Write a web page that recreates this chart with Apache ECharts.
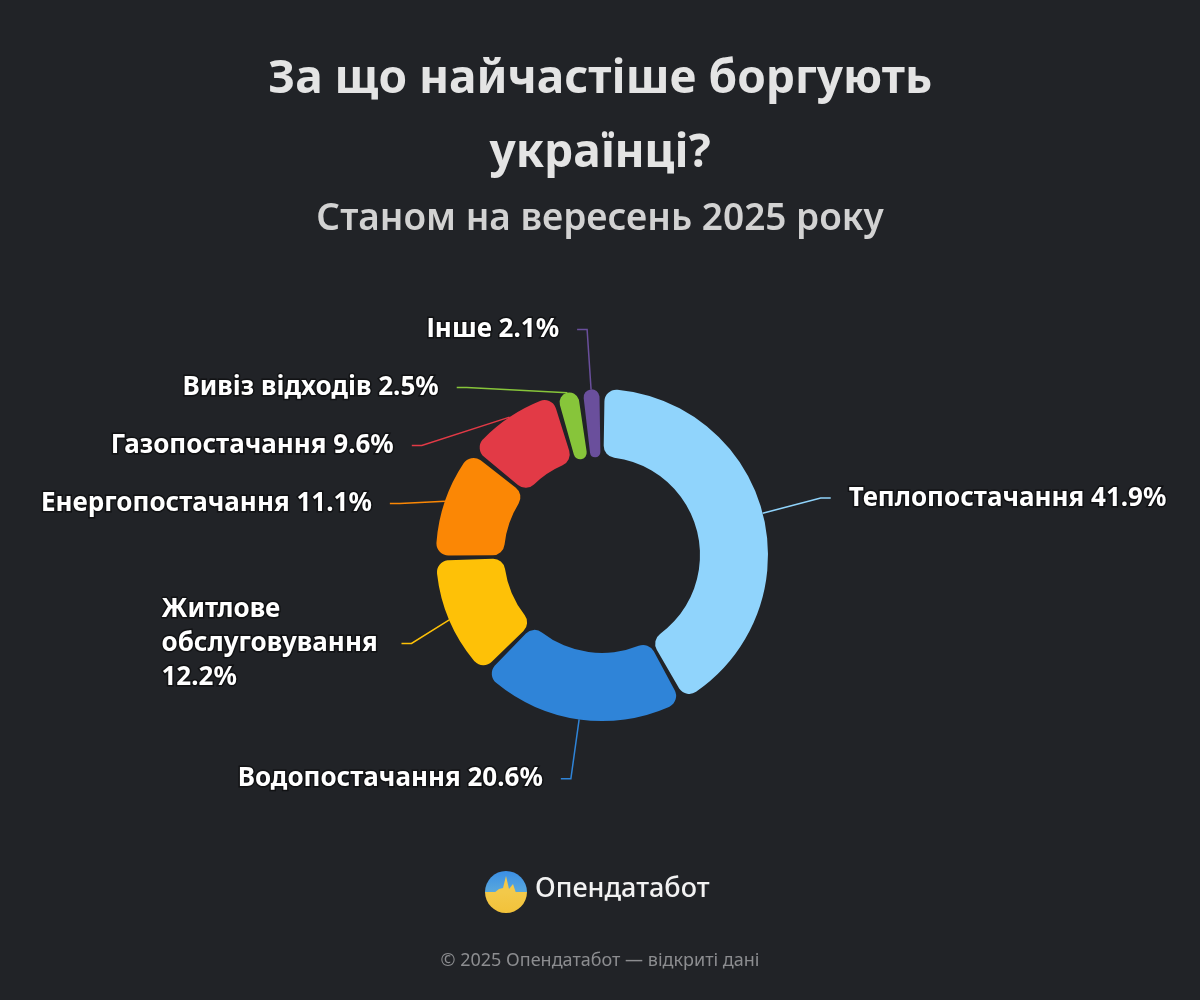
<!DOCTYPE html>
<html>
<head>
<meta charset="utf-8">
<title>За що найчастіше боргують українці?</title>
<script src="https://cdn.jsdelivr.net/npm/echarts@6/dist/echarts.min.js"></script>
<style>
    html, body { margin: 0; padding: 0; background: #212327; }
    #chart { width: 1200px; height: 1000px; }
</style>
</head>
<body>
<div id="chart"></div>
<script>
const categories = ['Теплопостачання', 'Водопостачання', 'Житлове обслуговування', 'Енергопостачання', 'Газопостачання', 'Вивіз відходів', 'Інше'];
const shares = [41.9, 20.6, 12.2, 11.1, 9.6, 2.5, 2.1];
const colors = ['#90d4fc', '#2f84d8', '#fec107', '#fb8705', '#e23a46', '#87c53a', '#6a4f9c'];

const titleText = 'За що найчастіше боргують\nукраїнці?';
const subtitleText = 'Станом на вересень 2025 року';
const brandText = 'Опендатабот';
const footerText = '© 2025 Опендатабот — відкриті дані';

const font = '"Noto Sans", "Open Sans", sans-serif';

const chart = echarts.init(document.getElementById('chart'));

const pieData = categories.map((name, i) => ({
    name: name,
    value: shares[i],
    itemStyle: { color: colors[i] },
    labelLine: { lineStyle: { color: colors[i] } }
}));

const option = {
    backgroundColor: '#212327',
    title: [
        {
            text: titleText,
            left: 'center',
            top: 38,
            textStyle: {
                color: '#e4e4e4',
                fontFamily: font,
                fontWeight: 'bold',
                fontSize: 46,
                lineHeight: 74
            }
        },
        {
            text: subtitleText,
            left: 'center',
            top: 196,
            textStyle: {
                color: '#d2d2d2',
                fontFamily: font,
                fontWeight: 600,
                fontSize: 37
            }
        }
    ],
    series: [
        {
            type: 'pie',
            center: [602, 555],
            radius: [98, 166],
            startAngle: 90,
            clockwise: true,
            padAngle: 1.8,
            avoidLabelOverlap: true,
            itemStyle: {
                borderRadius: 12
            },
            label: {
                show: true,
                position: 'outside',
                color: '#ffffff',
                fontFamily: font,
                fontWeight: 'bold',
                fontSize: 26,
                lineHeight: 56,
                textBorderColor: '#111214',
                textBorderWidth: 3,
                distanceToLabelLine: 18,
                formatter: function (p) {
                    if (p.name === 'Житлове обслуговування') {
                        return '{w|Житлове}\n{w|обслуговування}\n{w|' + p.value + '%}';
                    }
                    return p.name + ' ' + p.value + '%';
                },
                rich: {
                    w: {
                        width: 222,
                        align: 'left',
                        color: '#ffffff',
                        fontFamily: font,
                        fontWeight: 'bold',
                        fontSize: 26,
                        lineHeight: 34,
                        textBorderColor: '#111214',
                        textBorderWidth: 3
                    }
                }
            },
            labelLine: {
                show: true,
                length: 60,
                length2: 10,
                lineStyle: { width: 1.5 }
            },
            emphasis: { disabled: true },
            data: pieData
        }
    ],
    graphic: [
        {
            type: 'circle',
            shape: { cx: 506, cy: 892, r: 21 },
            style: {
                fill: {
                    type: 'linear', x: 0, y: 0, x2: 0, y2: 1,
                    colorStops: [
                        { offset: 0, color: '#3a8fe6' },
                        { offset: 0.5, color: '#5aa8dc' },
                        { offset: 0.5, color: '#f3c94a' },
                        { offset: 1, color: '#f2c23a' }
                    ]
                }
            }
        },
        {
            type: 'polygon',
            shape: {
                points: [[494, 893], [499, 889], [503, 888], [506, 876], [509, 889], [513, 884], [516, 893]]
            },
            style: { fill: '#f3c94a' }
        },
        {
            type: 'text',
            left: 535,
            top: 876,
            style: {
                text: brandText,
                fill: '#f2f2f2',
                font: '500 27px ' + font
            }
        },
        {
            type: 'text',
            left: 'center',
            top: 952,
            style: {
                text: footerText,
                fill: '#8c8d90',
                font: '18px ' + font
            }
        }
    ]
};

chart.setOption(option);
</script>
</body>
</html>
